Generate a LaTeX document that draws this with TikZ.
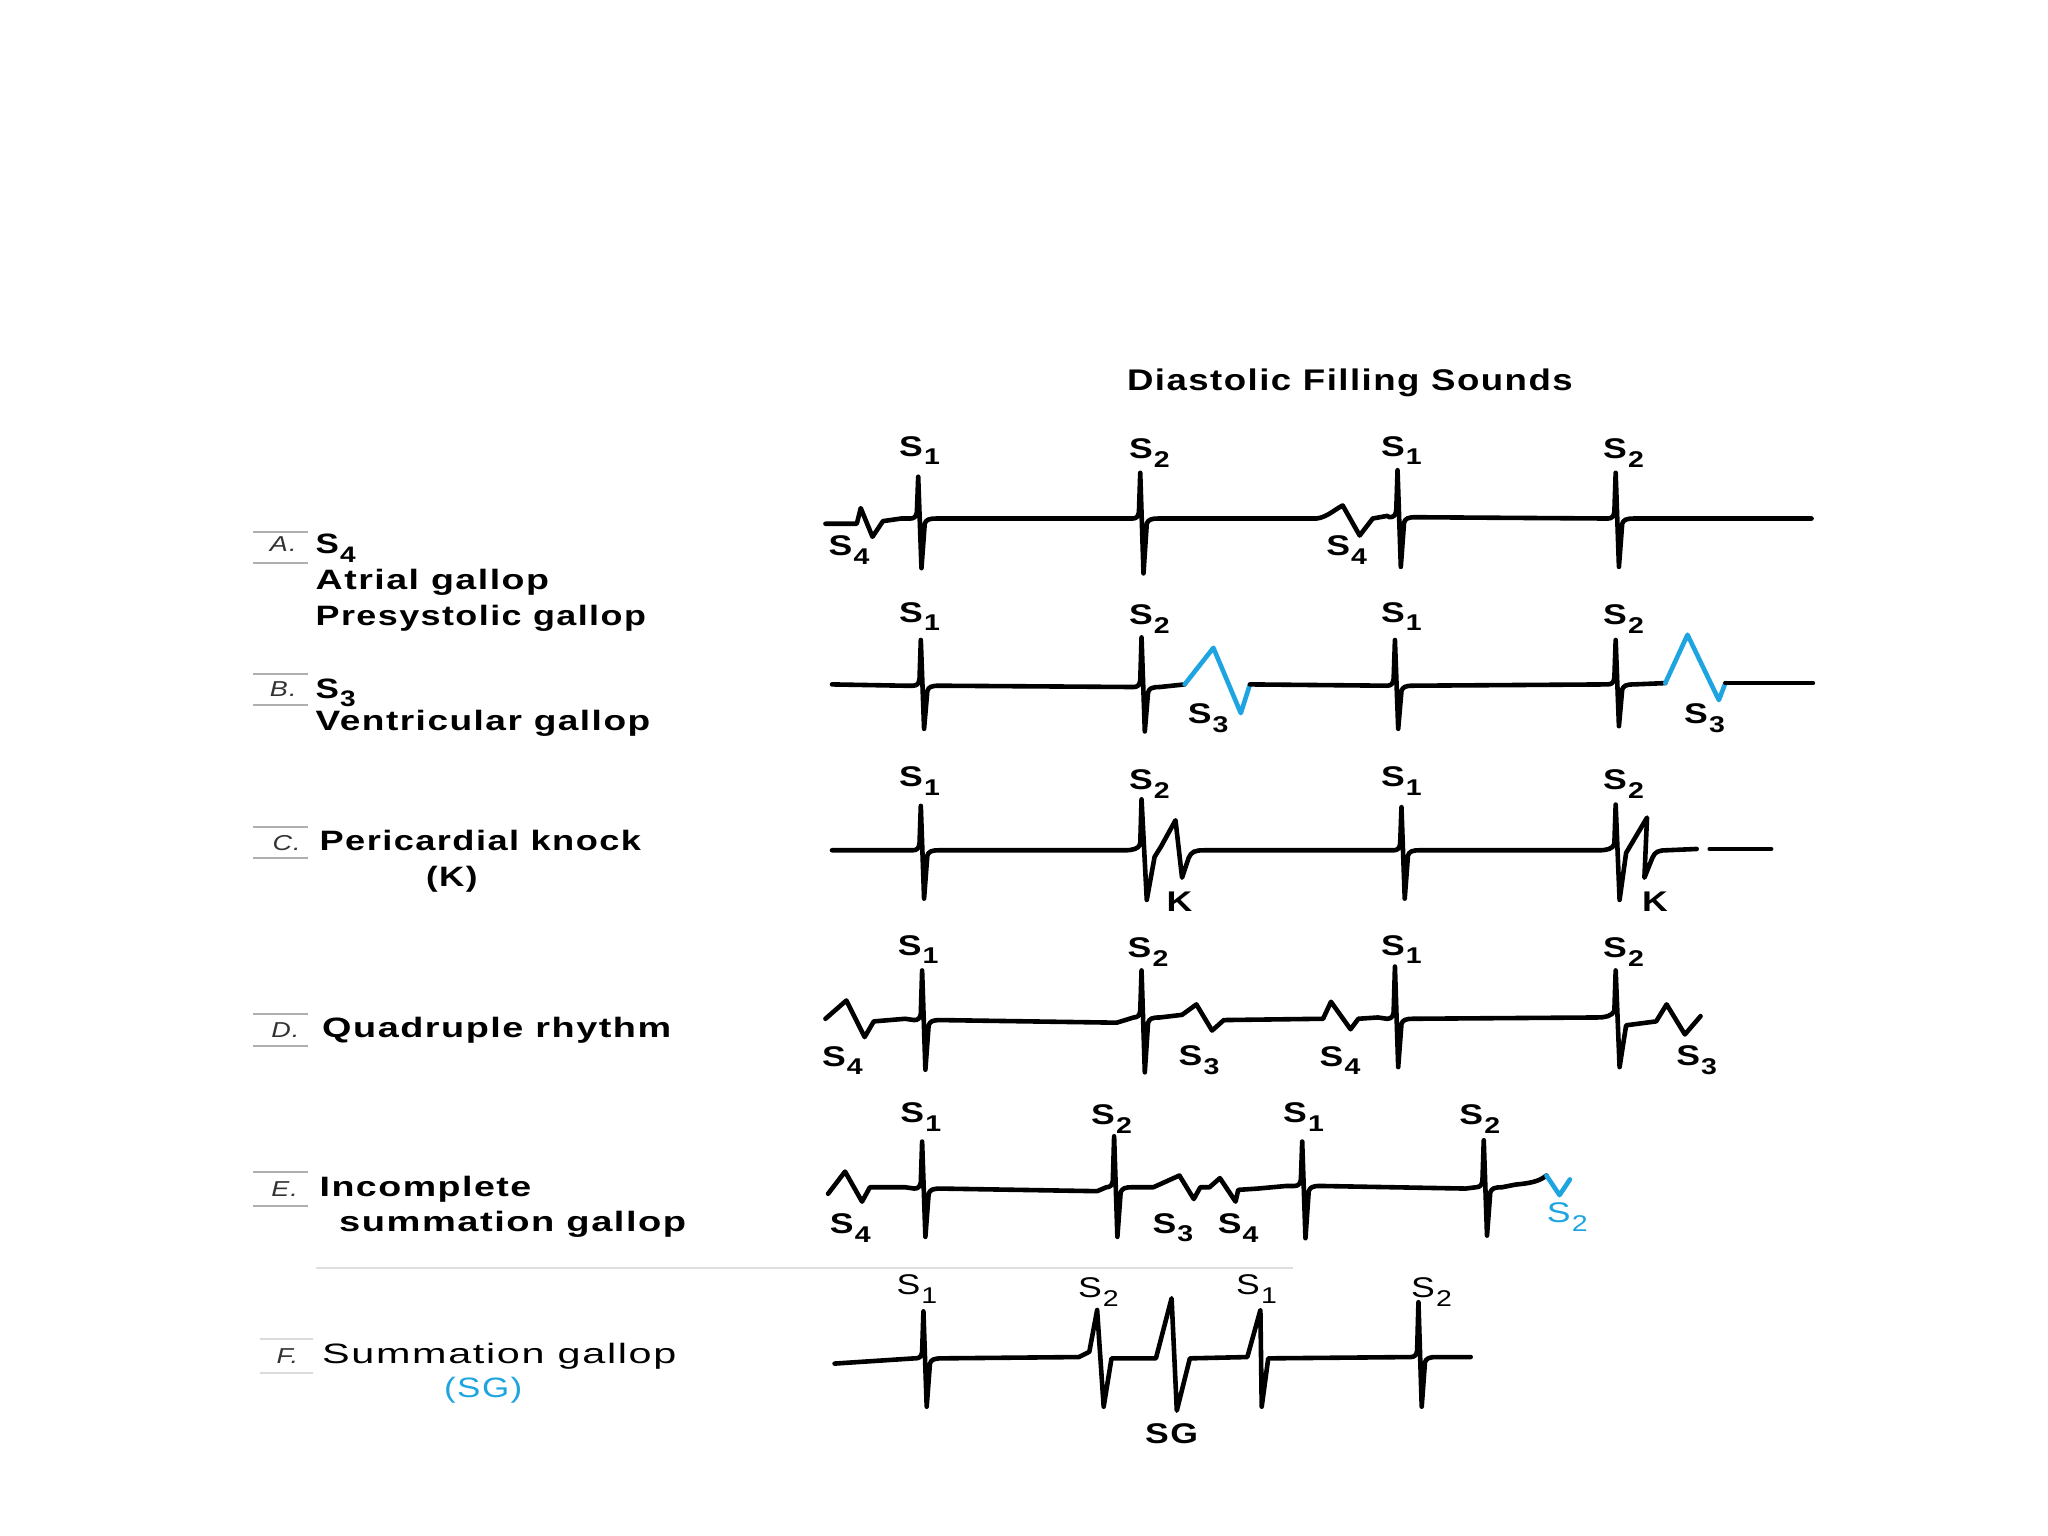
\documentclass[tikz,border=0pt]{standalone}
\usepackage{fontspec}
\usepackage{graphicx}
\setmainfont{Liberation Sans}
\newfontfamily\wide[FakeStretch=1.25,LetterSpace=5]{Liberation Sans}
\definecolor{sblue}{RGB}{30,165,225}
\definecolor{rule}{RGB}{175,175,175}
\newcommand\spk[4]{-- (#1-6,#2) .. controls (#1-3,#2) and (#1-1.5,#2-1.5) .. (#1-1,#2-5) -- (#1,#3) -- (#1+2.5,#4) -- (#1+5,#2+4) .. controls (#1+6,#2+1) and (#1+8,#2) .. (#1+14,#2)}
\newcommand\fitw[2]{\resizebox{#1}{\height}{#2}}
\newcommand\Ss[1]{S\kern0.04em\raisebox{-0.31em}{\scalebox{0.8}{#1}}}
\tikzset{
  trace/.style={line width=1pt, line join=round, line cap=round},
  bluetrace/.style={trace, draw=sblue},
  slab/.style={font=\wide\bfseries\fontsize{6.2}{7}\selectfont, inner sep=0pt},
  slabr/.style={font=\wide\fontsize{6.2}{7}\selectfont, inner sep=0pt},
  ltext/.style={font=\wide\bfseries\fontsize{6.1}{7}\selectfont, inner sep=0pt, anchor=base west},
  letter/.style={font=\wide\itshape\fontsize{4.7}{5}\selectfont, inner sep=0pt, anchor=base west, text=black!80},
  tick/.style={draw=rule, line width=0.45pt}
}
\begin{document}
\begin{tikzpicture}[x=0.01cm,y=-0.01cm]
\fill[white] (0,0) rectangle (1568,1176);
\useasboundingbox (0,0) rectangle (1568,1176);

% title
\node[inner sep=0pt, anchor=base] (title) at (1033.5,298.6) {\fitw{3.41cm}{\wide\bfseries\fontsize{6.5}{7}\selectfont Diastolic Filling Sounds}};

% left rules
\foreach \ya/\yb in {407/431,516/540,633/657,776/801,897/923}{
  \draw[tick] (194,\ya) -- (236,\ya);
  \draw[tick] (194,\yb) -- (236,\yb);
}
\draw[tick, draw=rule!45] (199,1025) -- (240,1025);
\draw[tick, draw=rule!45] (199,1051) -- (240,1051);
\draw[tick, draw=rule!40] (242,971) -- (990,971);

% left labels
\node[letter] (la) at (206,422.4) {A.};
\node[letter] (lb) at (206,533.5) {B.};
\node[letter] (lc) at (208,651) {C.};
\node[letter] (ld) at (207,794) {D.};
\node[letter] (le) at (207,916) {E.};
\node[letter] (lf) at (211,1044) {F.};

\node[ltext] (a0) at (241,424) {\Ss{4}};
\node[ltext] (a1) at (241,451) {\fitw{1.786cm}{Atrial gallop}};
\node[ltext] (a2) at (241,479) {\fitw{2.527cm}{Presystolic gallop}};
\node[ltext] (b0) at (241,534.5) {\Ss{3}};
\node[ltext] (b1) at (241,559) {\fitw{2.56cm}{Ventricular gallop}};
\node[ltext] (c1) at (244,651) {\fitw{2.46cm}{Pericardial knock}};
\node[ltext, anchor=base] (c2) at (346,678.5) {(K)};
\node[ltext] (d1) at (246,794) {\fitw{2.67cm}{Quadruple rhythm}};
\node[ltext] (e1) at (244,916) {\fitw{1.62cm}{Incomplete}};
\node[ltext] (e2) at (259,943) {\fitw{2.655cm}{summation gallop}};
\node[ltext, font=\wide\fontsize{6.1}{7}\selectfont] (f1) at (246,1044) {\fitw{2.71cm}{Summation gallop}};
\node[ltext, anchor=base, font=\wide\fontsize{6.1}{7}\selectfont, text=sblue] (f2) at (370,1070) {(SG)};

% Row A
\draw[trace] (632,401) -- (656,401) -- (659,389) -- (668,411) -- (676,399) -- (690,397) \spk{703}{397}{365}{435} \spk{873}{397}{362}{439} -- (1008,397) .. controls (1016,396) and (1022,390) .. (1028,387) -- (1041,410) -- (1051,397) -- (1062,395) \spk{1070}{396}{360}{434} \spk{1237}{397}{362}{434} -- (1387,397);
\node[slab] (ra1) at (704,345) {\Ss{1}};
\node[slab] (ra2) at (880,347) {\Ss{2}};
\node[slab] (ra3) at (1073,345) {\Ss{1}};
\node[slab] (ra4) at (1243,347) {\Ss{2}};
\node[slab] (ra5) at (650,421) {\Ss{4}};
\node[slab] (ra6) at (1031,421) {\Ss{4}};

% Row B
\draw[trace] (637,524) -- (692,525) \spk{705}{525}{490}{558} \spk{874}{526}{488}{560} -- (907,524);
\draw[bluetrace] (907,524) -- (929,496) -- (950,546) -- (957,524);
\draw[trace] (957,524) \spk{1068}{525}{490}{558} \spk{1237}{524}{490}{556} -- (1275,523);
\draw[bluetrace] (1275,523) -- (1292,486) -- (1316,536) -- (1321,523);
\draw[trace] (1321,523) -- (1388,523);
\node[slab] (rb1) at (704,472) {\Ss{1}};
\node[slab] (rb2) at (880,474) {\Ss{2}};
\node[slab] (rb3) at (1073,472) {\Ss{1}};
\node[slab] (rb4) at (1243,474) {\Ss{2}};
\node[slab] (rb5) at (925,550) {\Ss{3}};
\node[slab] (rb6) at (1305,550) {\Ss{3}};

% Row C
\draw[trace] (637,651) -- (692,651) \spk{705}{651}{617}{688} -- (861,651) .. controls (867,651) and (872,650) .. (873,646) -- (874,612) -- (878,689) -- (884,656) -- (889,648) -- (900,628) -- (905,672) -- (910,657) .. controls (912,652) and (915,651) .. (922,651) \spk{1073}{651}{618}{688} -- (1224,651) .. controls (1230,651) and (1235,650) .. (1236,646) -- (1237,616) -- (1240,689) -- (1245,653) -- (1261,626) -- (1259,672) -- (1265,657) .. controls (1267,652) and (1270,651) .. (1276,651) -- (1299,650);
\draw[trace] (1309,650) -- (1356,650);
\node[slab] (rc1) at (704,598) {\Ss{1}};
\node[slab] (rc2) at (880,600) {\Ss{2}};
\node[slab] (rc3) at (1073,598) {\Ss{1}};
\node[slab] (rc4) at (1243,600) {\Ss{2}};
\node[slab] (rc5) at (903,690) {K};
\node[slab] (rc6) at (1267,690) {K};

% Row D
\draw[trace] (632,780) -- (648,766) -- (662,794) -- (669,782) -- (693,780) \spk{706}{781}{743}{819} -- (855,783) \spk{874}{779}{743}{821} -- (905,777) -- (916,769) -- (928,789) -- (937,781) -- (1013,780) -- (1019,767) -- (1034,788) -- (1040,780) -- (1055,779) \spk{1068}{780}{740}{817} -- (1223,779) .. controls (1229,779) and (1234,778) .. (1236,774) -- (1237,743) -- (1240,817) -- (1245,785) -- (1268,782) -- (1276,769) -- (1290,792) -- (1302,778);
\node[slab] (rd1) at (703,727) {\Ss{1}};
\node[slab] (rd2) at (879,729) {\Ss{2}};
\node[slab] (rd3) at (1073,727) {\Ss{1}};
\node[slab] (rd4) at (1243,729) {\Ss{2}};
\node[slab] (rd5) at (645,812) {\Ss{4}};
\node[slab] (rd6) at (918,812) {\Ss{3}};
\node[slab] (rd7) at (1026,812) {\Ss{4}};
\node[slab] (rd8) at (1299,812) {\Ss{3}};

% Row E
\draw[trace] (634,914) -- (647,897) -- (660,920) -- (666,909) -- (693,909) \spk{706}{910}{874}{947} -- (840,912) \spk{853}{909}{870}{947} -- (883,909) -- (903,900) -- (914,918) -- (919,909) -- (926,909) -- (934,902) -- (946,920) -- (948,911) -- (963,910) -- (985,908) \spk{997}{908}{874}{948} -- (1122,910) \spk{1136}{909}{873}{946} -- (1160,907) .. controls (1170,906) and (1178,905) .. (1184,900);
\draw[bluetrace] (1184,900) -- (1194,915) -- (1202,903);
\node[slab] (re1) at (705,855) {\Ss{1}};
\node[slab] (re2) at (851,857) {\Ss{2}};
\node[slab] (re3) at (998,855) {\Ss{1}};
\node[slab] (re4) at (1133,857) {\Ss{2}};
\node[slab] (re5) at (651,940) {\Ss{4}};
\node[slab] (re6) at (898,940) {\Ss{3}};
\node[slab] (re7) at (948,940) {\Ss{4}};
\node[slabr, text=sblue] (re8) at (1200,932) {\Ss{2}};

% Row F
\draw[trace] (639,1044) -- (700,1040) \spk{707}{1040}{1004}{1077} -- (826,1039) -- (834,1035) -- (840,1003) -- (845,1077) -- (851,1040) -- (885,1040) -- (897,994) -- (901,1080) -- (911,1040) -- (955,1039) -- (965,1003) -- (966,1077) -- (971,1040) \spk{1086}{1039}{997}{1077} -- (1126,1039);
\node[slabr] (rf1) at (702,987) {\Ss{1}};
\node[slabr] (rf2) at (841,989) {\Ss{2}};
\node[slabr] (rf3) at (962,987) {\Ss{1}};
\node[slabr] (rf4) at (1096,989) {\Ss{2}};
\node[slab] (rf5) at (897,1098) {SG};
\end{tikzpicture}
\end{document}
